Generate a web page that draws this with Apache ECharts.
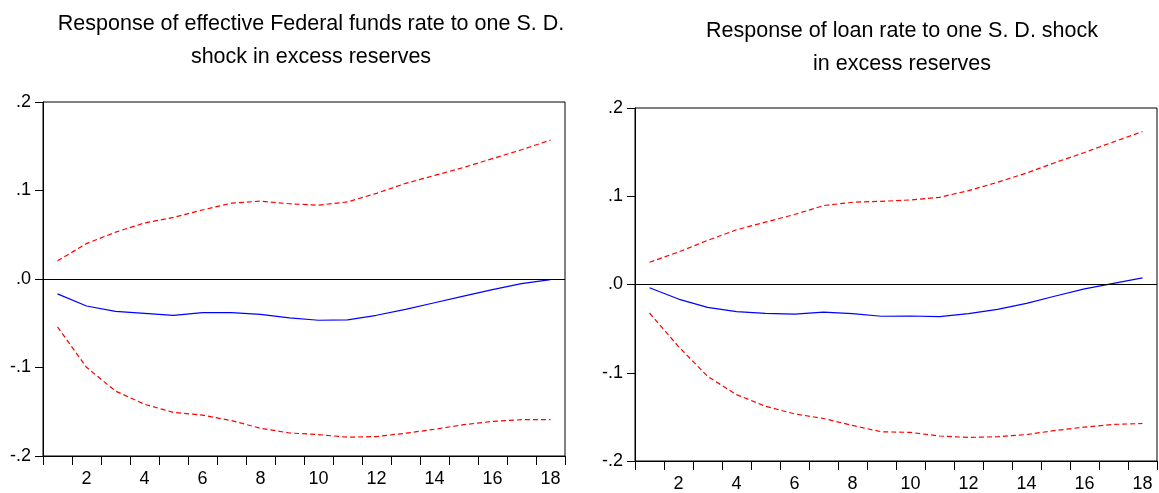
<!DOCTYPE html>
<html>
<head>
<meta charset="utf-8">
<script src="https://cdn.jsdelivr.net/npm/echarts@6/dist/echarts.min.js"></script>
<style>
html,body{margin:0;padding:0;background:#fff;}
#chart{width:1159px;height:493px;}
</style>
</head>
<body>
<div id="chart"></div>
<script>
// ---- Data ----
var periods = ['1','2','3','4','5','6','7','8','9','10','11','12','13','14','15','16','17','18'];
var yTicks = [-0.2, -0.1, 0, 0.1, 0.2];

var titleLeft = 'Response of effective Federal funds rate to one S. D.\nshock in excess reserves';
var titleRight = 'Response of loan rate to one S. D. shock\nin excess reserves';

// Left panel: effective Federal funds rate
var fedResponse = [-0.0168, -0.0305, -0.0365, -0.0388, -0.0410, -0.0380, -0.0380, -0.0400, -0.0440, -0.0466, -0.0462, -0.0410, -0.0343, -0.0268, -0.0194, -0.0120, -0.0052, -0.0007];
var fedUpper = [0.0205, 0.0400, 0.0529, 0.0633, 0.0696, 0.0780, 0.0857, 0.0880, 0.0850, 0.0834, 0.0871, 0.0968, 0.1080, 0.1170, 0.1260, 0.1360, 0.1460, 0.1570];
var fedLower = [-0.0540, -0.0998, -0.1266, -0.1415, -0.1508, -0.1538, -0.1600, -0.1687, -0.1740, -0.1758, -0.1788, -0.1780, -0.1743, -0.1698, -0.1646, -0.1609, -0.1590, -0.1590];

// Right panel: loan rate
var loanResponse = [-0.0037, -0.0165, -0.0260, -0.0308, -0.0327, -0.0335, -0.0312, -0.0330, -0.0360, -0.0357, -0.0365, -0.0330, -0.0282, -0.0214, -0.0130, -0.0050, 0.0012, 0.0075];
var loanUpper = [0.0252, 0.0368, 0.0500, 0.0620, 0.0707, 0.0793, 0.0894, 0.0932, 0.0943, 0.0958, 0.0988, 0.1063, 0.1158, 0.1263, 0.1383, 0.1496, 0.1616, 0.1733];
var loanLower = [-0.0323, -0.0703, -0.1040, -0.1248, -0.1380, -0.1466, -0.1518, -0.1597, -0.1669, -0.1676, -0.1717, -0.1733, -0.1725, -0.1700, -0.1654, -0.1616, -0.1586, -0.1575];

// ---- Chart ----
var FONT = 'Liberation Sans, Arial, sans-serif';
function yFmt(v){
  var d = Math.round(Math.abs(v)*10);
  return (v < -1e-9 ? '-' : '') + '.' + d;
}
function xAxisCfg(gi){
  return {
    type:'category', gridIndex:gi, data:periods, boundaryGap:true,
    axisLine:{show:true, onZero:false, lineStyle:{color:'#000', width:1}},
    axisTick:{show:true, interval:0, inside:false, length:9, lineStyle:{color:'#000'}},
    axisLabel:{interval:function(i){return i%2===1;}, color:'#000', fontSize:18, fontFamily:FONT, margin:14},
    splitLine:{show:false}
  };
}
function yAxisCfg(gi){
  return {
    type:'value', gridIndex:gi, min:yTicks[0], max:yTicks[yTicks.length-1], interval:0.1,
    axisLine:{show:true, lineStyle:{color:'#000', width:1}},
    axisTick:{show:true, inside:false, length:8, lineStyle:{color:'#000'}},
    axisLabel:{formatter:yFmt, color:'#000', fontSize:18, fontFamily:FONT, margin:12},
    splitLine:{show:false}
  };
}
function lineSeries(gi, data, kind){
  var s = {
    type:'line', xAxisIndex:gi, yAxisIndex:gi, data:data, symbol:'none', smooth:false,
    lineStyle: kind==='mid' ? {color:'#0000ff', width:1.2, type:'solid'} : {color:'#ff0000', width:1.2, type:[5,3]},
    silent:true, animation:false
  };
  if(kind==='mid'){
    s.markLine = {symbol:'none', silent:true, animation:false, label:{show:false},
      lineStyle:{color:'#000', width:1, type:'solid'}, data:[{yAxis:0}]};
  }
  return s;
}
var chart = echarts.init(document.getElementById('chart'), null, {renderer:'canvas'});
chart.setOption({
  backgroundColor:'#fff',
  animation:false,
  title:[
    {text:titleLeft, left:306, top:3, textAlign:'center',
     textStyle:{fontSize:21.5, fontWeight:'normal', color:'#000', fontFamily:FONT, lineHeight:33, align:'center'}},
    {text:titleRight, left:897, top:10, textAlign:'center',
     textStyle:{fontSize:21.5, fontWeight:'normal', color:'#000', fontFamily:FONT, lineHeight:33, align:'center'}}
  ],
  grid:[
    {left:43, top:102, width:522, height:354, show:true, borderColor:'#000', borderWidth:1, backgroundColor:'transparent'},
    {left:635, top:108, width:522, height:355, show:true, borderColor:'#000', borderWidth:1, backgroundColor:'transparent'}
  ],
  xAxis:[xAxisCfg(0), xAxisCfg(1)],
  yAxis:[yAxisCfg(0), yAxisCfg(1)],
  series:[
    lineSeries(0, fedUpper, 'band'),
    lineSeries(0, fedLower, 'band'),
    lineSeries(0, fedResponse, 'mid'),
    lineSeries(1, loanUpper, 'band'),
    lineSeries(1, loanLower, 'band'),
    lineSeries(1, loanResponse, 'mid')
  ]
});
</script>
</body>
</html>
